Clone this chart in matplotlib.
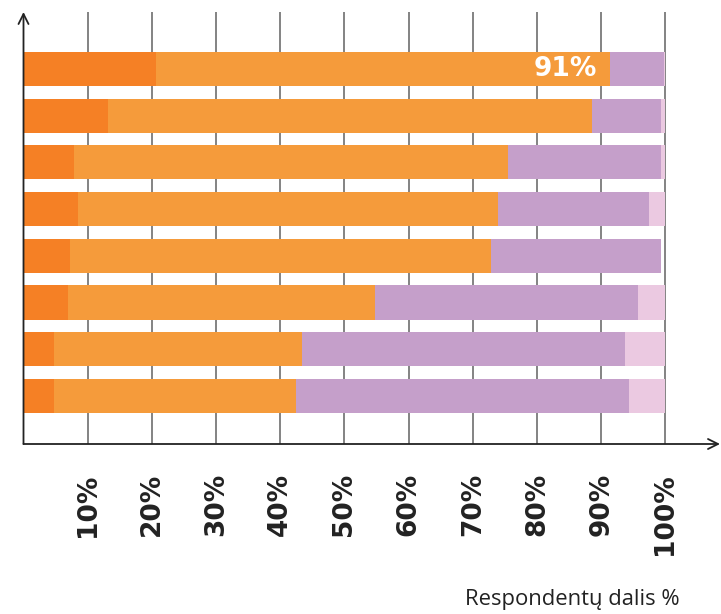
import matplotlib.pyplot as plt
import numpy as np

# stacked shares per row (percent), top row first
dark_orange = [20.7, 13.1, 7.8, 8.5, 7.2, 7.0, 4.7, 4.7]
light_orange = [70.7, 75.4, 67.6, 65.4, 65.7, 47.7, 38.7, 37.8]
purple = [8.4, 10.8, 23.9, 23.5, 26.4, 41.1, 50.3, 51.8]
pink = [0.2, 0.7, 0.7, 2.6, 0.0, 4.2, 6.3, 5.7]

ticks = [10, 20, 30, 40, 50, 60, 70, 80, 90, 100]
tick_labels = ["10%", "20%", "30%", "40%", "50%", "60%", "70%", "80%", "90%", "100%"]
top_label = "91%"

colors = ["#F58025", "#F59B3B", "#C59FCA", "#EBC9E1"]

W, H = 721, 614
fig = plt.figure(figsize=(W / 100, H / 100), dpi=100)
# axes from x=23.5px to 720px, y=12px to 444px
ax = fig.add_axes([23.5 / W, 1 - 444 / H, (720 - 23.5) / W, (444 - 12) / H])

y = np.arange(len(dark_orange))
left = np.zeros(len(y))
for vals, c in zip([dark_orange, light_orange, purple, pink], colors):
    ax.barh(y, vals, left=left, height=0.73, color=c, zorder=3)
    left += np.array(vals)

for t in ticks:
    ax.axvline(t, color="#7a7a7a", lw=1.3, zorder=1)

ax.text(dark_orange[0] + light_orange[0] - 2.0, 0, top_label, color="white",
        fontsize=19, fontweight="bold", ha="right", va="center", zorder=4)

ax.set_xlim(0, 108.5)
ax.set_ylim(8.03, -1.22)
ax.set_yticks([])
ax.set_xticks(ticks)
ax.set_xticklabels(tick_labels, rotation=90, fontsize=19, fontweight="bold",
                   color="#222222")
ax.tick_params(axis="x", length=0, pad=21)
for s in ax.spines.values():
    s.set_visible(False)

# axis lines with open arrowheads
ax.annotate("", xy=(0, 1), xytext=(0, 0), xycoords="axes fraction",
            arrowprops=dict(arrowstyle="->", color="#222222", lw=1.3,
                            mutation_scale=18, shrinkA=0, shrinkB=0), zorder=5)
ax.annotate("", xy=(1, 0), xytext=(0, 0), xycoords="axes fraction",
            arrowprops=dict(arrowstyle="->", color="#222222", lw=1.3,
                            mutation_scale=18, shrinkA=0, shrinkB=0), zorder=5)

fig.text(680 / W, 1 - 600 / H, "Respondentų dalis %", ha="right", va="center",
         fontsize=15.8, family="Open Sans", color="#222222")

fig.savefig("out.png", dpi=100)
